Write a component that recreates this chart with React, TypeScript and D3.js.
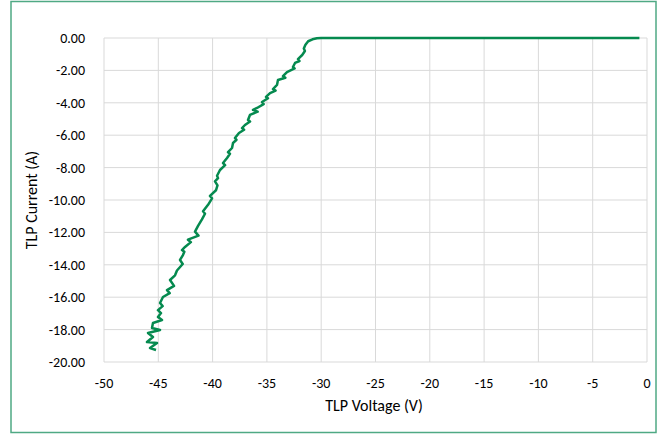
import React from "react";
import * as d3 from "d3";

// TLP sweep (volts, amps)
const voltage = [
  -0.7, -5, -10, -15, -20, -25, -29.5, -30.0, -30.4, -30.8, -31.2, -31.45, -31.6, -31.5,
  -31.75, -32.14, -32.0, -32.41, -32.6, -32.45, -33.15, -33.52, -33.3, -33.98, -34.07,
  -34.44, -34.2, -34.71, -35.08, -34.9, -35.45, -35.3, -35.91, -36.28, -35.85, -36.56,
  -36.74, -36.55, -37.02, -37.29, -37.1, -37.57, -37.94, -37.8, -38.12, -38.21, -38.58,
  -38.4, -38.67, -39.04, -38.85, -39.32, -39.59, -39.5, -39.78, -39.55, -39.69, -40.24,
  -40.05, -40.42, -40.88, -40.7, -40.98, -41.34, -41.62, -41.3, -42.27, -42.0, -42.54,
  -42.82, -42.6, -42.73, -43.0, -42.75, -43.28, -43.46, -43.92, -43.55, -44.2, -43.95,
  -44.57, -44.84, -44.6, -45.03, -44.75, -45.03, -44.66, -45.49, -45.58, -44.84, -45.95,
  -45.49, -46.04, -45.12, -45.76, -45.21,
];
const current = [
  0, 0, 0, 0, 0, 0, 0, 0, -0.02, -0.08, -0.2, -0.42, -0.65, -0.8,
  -1.05, -1.3, -1.42, -1.54, -1.79, -1.88, -2.1, -2.35, -2.45, -2.59, -2.9,
  -3.15, -3.25, -3.4, -3.64, -3.72, -3.95, -4.08, -4.32, -4.44, -4.55, -4.75,
  -5.06, -5.15, -5.37, -5.56, -5.66, -5.86, -6.17, -6.28, -6.48, -6.79, -7.05,
  -7.15, -7.41, -7.72, -7.85, -8.15, -8.5, -8.65, -8.85, -9.1, -9.4, -9.75,
  -9.9, -10.3, -10.7, -10.85, -11.2, -11.6, -11.95, -12.2, -12.45, -12.6, -12.9,
  -13.09, -13.2, -13.4, -13.7, -13.95, -14.35, -14.65, -14.94, -15.3, -15.56, -15.75,
  -15.99, -16.36, -16.55, -16.8, -16.98, -17.22, -17.41, -17.59, -17.9, -18.02, -18.21,
  -18.46, -18.77, -18.83, -19.14, -19.26,
];

const xTicks = [-50, -45, -40, -35, -30, -25, -20, -15, -10, -5, 0];
const yTicks = [0, -2, -4, -6, -8, -10, -12, -14, -16, -18, -20];

const W = 660;
const H = 434;
const FONT = "Carlito, Calibri, Lato, 'Open Sans', sans-serif";

export default function App() {
  const x = d3.scaleLinear().domain([-50, 0]).range([104, 647]);
  const y = d3.scaleLinear().domain([0, -20]).range([38, 362]);

  const pts = voltage.map((v, i) => [v, current[i]] as [number, number]);
  const line = d3
    .line<[number, number]>()
    .x((d) => x(d[0]))
    .y((d) => y(d[1]));

  return (
    <div style={{ position: "fixed", left: 0, top: 0 }}>
      <svg width={W} height={H} style={{ display: "block" }}>
        <rect x={0} y={0} width={W} height={H} fill="#ffffff" />
        <rect
          x={11}
          y={1.5}
          width={645}
          height={431}
          fill="none"
          stroke="#4fa984"
          strokeWidth={1.5}
        />

        {/* grid */}
        <g stroke="#d9d9d9" strokeWidth={1}>
          {xTicks.map((t) => (
            <line key={"gx" + t} x1={x(t)} x2={x(t)} y1={y(0)} y2={y(-20)} />
          ))}
          {yTicks.map((t) => (
            <line key={"gy" + t} x1={x(-50)} x2={x(0)} y1={y(t)} y2={y(t)} />
          ))}
        </g>

        {/* tick labels */}
        <g fontFamily={FONT} fontSize={14} fill="#000">
          {yTicks.map((t) => (
            <text key={"ly" + t} x={85} y={y(t)} dy="0.35em" textAnchor="end">
              {d3.format(".2f")(t).replace("−", "-")}
            </text>
          ))}
          {xTicks.map((t) => (
            <text key={"lx" + t} x={x(t)} y={388} textAnchor="middle">
              {String(t)}
            </text>
          ))}
        </g>

        <text
          x={374}
          y={411}
          textAnchor="middle"
          fontFamily={FONT}
          fontSize={16}
          fill="#000"
        >
          TLP Voltage (V)
        </text>
        <text
          transform={`translate(37,200) rotate(-90)`}
          textAnchor="middle"
          fontFamily={FONT}
          fontSize={16}
          fill="#000"
        >
          TLP Current (A)
        </text>

        <path
          d={line(pts) || ""}
          fill="none"
          stroke="#058a4f"
          strokeWidth={2.5}
          strokeLinejoin="round"
        />
      </svg>
    </div>
  );
}
